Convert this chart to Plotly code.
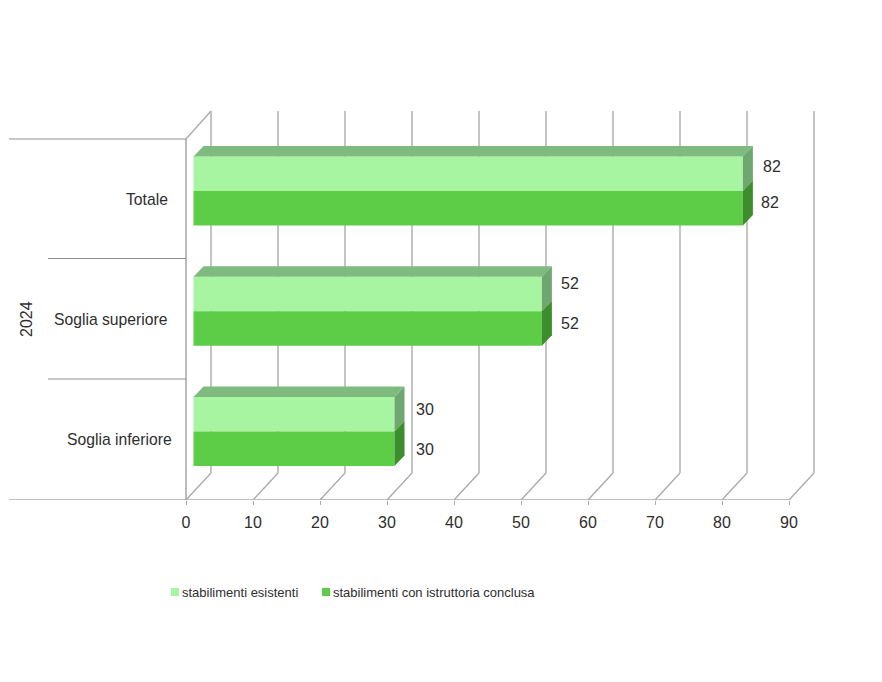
import plotly.graph_objects as go

# ---- data ----
categories = ["Soglia inferiore", "Soglia superiore", "Totale"]
group_label = "2024"
series_names = ["stabilimenti esistenti", "stabilimenti con istruttoria conclusa"]
esistenti = [30, 52, 82]
conclusa = [30, 52, 82]
x_ticks = [0, 10, 20, 30, 40, 50, 60, 70, 80, 90]

# ---- styling / geometry (page pixels) ----
FONT = "Liberation Sans, Arial, sans-serif"
W, H = 882, 682
X0_PX, FLOOR_PX = 186, 500
PX_PER_UNIT = 6.7
GRID, AXIS = "#ababab", "#8f8f8f"
TXT = "#2e2e2e"
LIGHT, DARK = "#a7f5a0", "#5dcc46"
TOP, SIDE_L, SIDE_D = "#7fbb7f", "#6fa770", "#3c8e2d"
BAR_H = 34.5
BAND = 120.25
DEPTH = 10 / PX_PER_UNIT
WALL_DX = 25 / PX_PER_UNIT
BASE = 7.5 / PX_PER_UNIT


def ux(px):
    return (px - X0_PX) / PX_PER_UNIT


def uy(py):
    return FLOOR_PX - py


centers = [BAND * (i + 0.5) + 8.5 for i in range(len(categories))]
fig = go.Figure()

# front faces
fig.add_trace(go.Bar(orientation="h", y=[c + BAR_H / 2 for c in centers], x=esistenti, base=BASE,
                     width=BAR_H, marker=dict(color=LIGHT, line_width=0), name=series_names[0], showlegend=False))
fig.add_trace(go.Bar(orientation="h", y=[c - BAR_H / 2 for c in centers], x=conclusa, base=BASE,
                     width=BAR_H, marker=dict(color=DARK, line_width=0), name=series_names[1], showlegend=False))


def poly(xs, ys, color):
    fig.add_trace(go.Scatter(x=xs, y=ys, mode="lines", fill="toself", fillcolor=color, line=dict(width=0),
                             hoverinfo="skip", showlegend=False))


# 3D top and side faces, derived from the values
for c, a, b in zip(centers, esistenti, conclusa):
    ra, rb = a + BASE, b + BASE
    top, mid, bot = c + BAR_H, c, c - BAR_H
    d = 10.5
    poly([BASE, BASE + DEPTH, ra + DEPTH, ra], [top, top + d, top + d, top], TOP)
    poly([ra, ra + DEPTH, ra + DEPTH, ra], [top, top + d, mid + d, mid], SIDE_L)
    poly([rb, rb + DEPTH, rb + DEPTH, rb], [mid, mid + d, bot + d, bot], SIDE_D)

# walls and grid, under the bars
shapes = []


def seg(x0, y0, x1, y1, color=GRID, w=1.4):
    shapes.append(dict(type="line", xref="x", yref="y", x0=x0, y0=y0, x1=x1, y1=y1,
                       layer="below", line=dict(color=color, width=w)))


for t in x_ticks:
    seg(t, 0, t + WALL_DX, uy(473))
    seg(t + WALL_DX, uy(473), t + WALL_DX, uy(111))
seg(0, uy(139), WALL_DX, uy(111))
seg(0, 0, 0, uy(139), AXIS, 1.2)
seg(ux(9), uy(139), 0, uy(139), AXIS, 1.2)
seg(ux(48), uy(258.5), 0, uy(258.5), AXIS, 1.2)
seg(ux(48), uy(379), 0, uy(379), AXIS, 1.2)
seg(ux(9), 0, x_ticks[-1], 0, GRID, 1.6)

# text
ann = []


def text(x, y, s, size=16, anchor="center", angle=0):
    ann.append(dict(x=x, y=y, xref="x", yref="y", text=s, showarrow=False, xanchor=anchor, yanchor="middle",
                    textangle=angle, font=dict(family=FONT, size=size, color=TXT)))


for c, name, right in zip(centers, categories, [174, 170, 170]):
    text(ux(right), c - 8.5, name, size=15.7, anchor="right")
text(ux(26), uy(319), group_label, angle=-90)

label_dy_light = [-5, -10, -7.5]
label_dy_dark = [0.5, -5, -6]
gap_light = [19, 17, 18]
gap_dark = [19, 17, 16]
for c, a, b, d1, d2, g1, g2 in zip(centers, esistenti, conclusa, label_dy_light, label_dy_dark, gap_light, gap_dark):
    text(a + BASE + g1 / PX_PER_UNIT, c + BAR_H / 2 - d1, str(a), anchor="left")
    text(b + BASE + g2 / PX_PER_UNIT, c - BAR_H / 2 - d2, str(b), anchor="left")

# legend row, placed against the page (below the plotting area)
for name, color, sw_px in zip(series_names, [LIGHT, DARK], [171, 322]):
    shapes.append(dict(type="rect", xref="paper", yref="paper", line_width=0, fillcolor=color, layer="above",
                       x0=sw_px / W, x1=(sw_px + 8) / W,
                       y0=(FLOOR_PX - 596) / FLOOR_PX, y1=(FLOOR_PX - 588) / FLOOR_PX))
    ann.append(dict(x=(sw_px + 9) / W, y=(FLOOR_PX - 592.5) / FLOOR_PX, xref="paper", yref="paper", text=name,
                    showarrow=False, xanchor="left", yanchor="middle",
                    font=dict(family=FONT, size=13, color=TXT)))

fig.update_layout(
    width=W, height=H, margin=dict(l=0, r=0, t=0, b=H - FLOOR_PX, autoexpand=False),
    paper_bgcolor="white", plot_bgcolor="rgba(0,0,0,0)", showlegend=False, barmode="overlay",
    shapes=shapes, annotations=ann,
    xaxis=dict(range=[ux(0), ux(W)], tickvals=x_ticks, showgrid=False, zeroline=False, showline=False,
               ticks="outside", ticklen=4, tickcolor=GRID, tickwidth=1.2, ticklabelstandoff=4,
               tickfont=dict(family=FONT, size=16, color=TXT)),
    yaxis=dict(range=[0, FLOOR_PX], visible=False, fixedrange=True),
)
fig.write_html("out.html", config=dict(displayModeBar=False),
               post_script="document.body.style.margin='0';document.body.style.overflow='hidden';")
